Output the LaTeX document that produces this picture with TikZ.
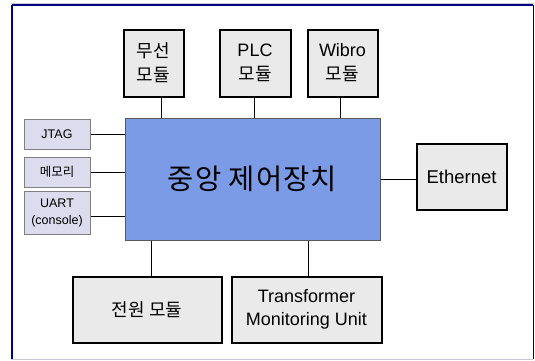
\documentclass[tikz,border=0pt]{standalone}
\usepackage{fontspec}
\setmainfont{Liberation Sans}
\newfontfamily\kr{Noto Sans CJK KR}
\newfontfamily\krwide[LetterSpace=4]{Noto Sans CJK KR}
\definecolor{navy}{RGB}{0,0,128}
\definecolor{cpublue}{RGB}{123,155,230}
\definecolor{boxgray}{RGB}{234,234,234}
\definecolor{lav}{RGB}{220,220,238}
\definecolor{lavborder}{RGB}{128,128,128}
\definecolor{framegray}{RGB}{200,200,216}
\begin{document}
\begin{tikzpicture}[x=1pt,y=-1pt,
  modbox/.style={draw=black,line width=2pt,fill=boxgray,inner sep=0pt,align=center,font=\fontsize{18}{24}\selectfont},
  smallbox/.style={draw=lavborder,line width=1pt,fill=lav,inner sep=0pt,align=center,font=\fontsize{12.5}{17}\selectfont},
  cpubox/.style={draw=black!65,line width=1pt,fill=cpublue,inner sep=0pt,font=\krwide\fontsize{28.5}{30}\selectfont},
  link/.style={draw=black,line width=1pt}]
\useasboundingbox (0,0) rectangle (535,360);
\fill[white] (0,0) rectangle (535,360);
% frame
\draw[framegray,line width=1pt] (10.5,3.5) -- (534,3.5);
\draw[framegray,line width=1pt] (11,359) -- (533,359);
\draw[navy,line width=2pt] (12,5) -- (533,5);
\draw[navy,line width=2pt] (12,5) -- (12,359);
\draw[navy,line width=1pt] (533,5) -- (533,359);
% central unit
\node[cpubox,minimum width=255pt,minimum height=122pt] (cpu) at (252.5,179) {중앙 제어장치};
% top modules
\node[modbox,minimum width=60pt,minimum height=67pt] (wl) at (153.5,63) {\kr 무선\\\kr 모듈};
\node[modbox,minimum width=71pt,minimum height=67pt] (plc) at (255,63) {PLC\\\kr 모듈};
\node[modbox,minimum width=70pt,minimum height=67pt] (wib) at (342.5,63) {Wibro\\\kr 모듈};
% left boxes
\node[smallbox,minimum width=66pt,minimum height=30pt] (jtag) at (57,134) {JTAG};
\node[smallbox,minimum width=66pt,minimum height=30pt] (mem) at (57,172) {\kr 메모리};
\node[smallbox,minimum width=66pt,minimum height=43pt] (uart) at (57,212.5) {UART\\(console)};
% right
\node[modbox,minimum width=90pt,minimum height=66pt,font=\fontsize{18.5}{24}\selectfont] (eth) at (461.5,176.5) {Ethernet};
% bottom
\node[modbox,minimum width=149pt,minimum height=66pt] (pwr) at (147,309.5) {\kr 전원 모듈};
\node[modbox,minimum width=150pt,minimum height=66pt,font=\fontsize{18}{23.5}\selectfont] (tmu) at (306.5,309.5) {Transformer\\Monitoring Unit};
% connectors
\draw[link] ([xshift=7.5pt]wl.south) -- ([xshift=7.5pt]wl.south |- cpu.north);
\draw[link] ([xshift=-1pt]plc.south) -- ([xshift=-1pt]plc.south |- cpu.north);
\draw[link] ([xshift=-2.5pt]wib.south) -- ([xshift=-2.5pt]wib.south |- cpu.north);
\draw[link] (jtag.east) -- (jtag.east -| cpu.west);
\draw[link] (mem.east) -- (mem.east -| cpu.west);
\draw[link] ([yshift=-3.5pt]uart.east) -- ([yshift=-3.5pt]uart.east -| cpu.west);
\draw[link] ([yshift=-2.5pt]eth.west) -- ([yshift=-2.5pt]eth.west -| cpu.east);
\draw[link] ([xshift=4pt]pwr.north) -- ([xshift=4pt]pwr.north |- cpu.south);
\draw[link] ([xshift=1.5pt]tmu.north) -- ([xshift=1.5pt]tmu.north |- cpu.south);
\end{tikzpicture}
\end{document}
